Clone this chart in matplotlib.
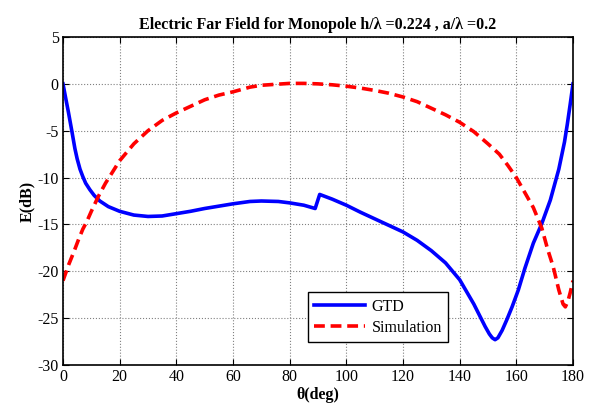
import matplotlib
matplotlib.use("Agg")
import matplotlib.pyplot as plt

plt.rcParams['font.family'] = ['Liberation Serif', 'DejaVu Serif']
plt.rcParams['axes.unicode_minus'] = False

# GTD curve (theta in deg, E in dB)
gtd_theta = [0, 1, 1.9, 3.1, 4.2, 5, 6, 7, 8, 9.5, 11, 13, 16, 20, 25, 30, 35,
             40, 45, 50, 55, 60, 66, 70, 76, 80, 85, 89, 90.6, 95, 100, 105, 110,
             115, 120, 125, 130, 135, 140, 142.5, 145, 147, 149, 150.5, 151.5,
             152.5, 153.5, 155, 156.6, 158.5, 160.7, 163, 166, 169, 172, 175,
             177, 178, 179, 180]
gtd_db = [0, -1.6, -3.0, -5.0, -6.9, -8.0, -9.1, -9.9, -10.6, -11.3, -11.9,
          -12.5, -13.1, -13.6, -14.0, -14.15, -14.1, -13.85, -13.6, -13.3,
          -13.05, -12.8, -12.55, -12.5, -12.55, -12.7, -12.95, -13.3, -11.8,
          -12.3, -12.95, -13.7, -14.4, -15.1, -15.8, -16.7, -17.8, -19.1, -20.9,
          -22.2, -23.5, -24.7, -25.9, -26.7, -27.1, -27.3, -27.1, -26.3, -25.2,
          -23.8, -22.0, -19.7, -17.0, -14.9, -12.4, -9.1, -6.2, -4.3, -2.2, 0]

# Simulation curve
sim_theta = [0, 2, 4, 5.5, 7, 8.4, 10, 12.5, 15, 20, 25, 30, 35, 40, 45, 50, 55,
             60, 66, 70, 75, 80, 85, 90, 95, 100, 105, 110, 115, 120, 125, 130,
             135, 140, 145, 150, 154, 157, 160, 163, 166, 169, 171, 173, 175,
             176.5, 177.3, 178.2, 179, 180]
sim_db = [-21.0, -19.3, -17.8, -16.6, -15.5, -14.7, -13.6, -12.0, -10.6, -8.2,
          -6.4, -5.0, -3.9, -3.1, -2.4, -1.7, -1.2, -0.85, -0.35, -0.15, -0.05,
          0.05, 0.05, 0.0, -0.1, -0.25, -0.45, -0.7, -1.0, -1.4, -1.9, -2.6,
          -3.3, -4.1, -5.1, -6.4, -7.5, -8.7, -10.0, -11.6, -13.2, -15.4, -17.6,
          -19.5, -22.0, -23.5, -23.8, -23.2, -22.3, -21.0]

x_ticks = list(range(0, 181, 20))
y_ticks = list(range(-30, 6, 5))

fig = plt.figure(figsize=(5.96, 4.08), dpi=100)
ax = fig.add_axes([0.1057, 0.1054, 0.8557, 0.8039])

ax.plot(gtd_theta, gtd_db, color="blue", linewidth=2.6, label="GTD")
ax.plot(sim_theta, sim_db, color="red", linewidth=2.6, linestyle=(0, (3, 1.6)),
        label="Simulation")

ax.set_xlim(0, 180)
ax.set_ylim(-30, 5)
ax.set_xticks(x_ticks)
ax.set_yticks(y_ticks)
ax.tick_params(direction="in", top=True, right=True, labelsize=11.5, length=4,
               width=0.8, pad=3)
ax.grid(True, color="gray", linestyle=":", linewidth=0.8)
for s in ax.spines.values():
    s.set_linewidth(1.2)

ax.set_title("Electric Far Field for Monopole h/λ =0.224 , a/λ =0.2",
             fontsize=11.5, fontweight="bold", pad=6)
ax.set_xlabel("θ(deg)", fontsize=11.5, fontweight="bold", labelpad=1)
ax.set_ylabel("E(dB)", fontsize=11.5, fontweight="bold", labelpad=2)

leg = ax.legend(loc="lower left", bbox_to_anchor=(0.48, 0.07), fontsize=11.5,
                fancybox=False, framealpha=1, edgecolor="black", handlelength=3.2,
                borderaxespad=0, handletextpad=0.4, labelspacing=0.3)
leg.get_frame().set_linewidth(1.0)

fig.savefig("out.png", dpi=100)
